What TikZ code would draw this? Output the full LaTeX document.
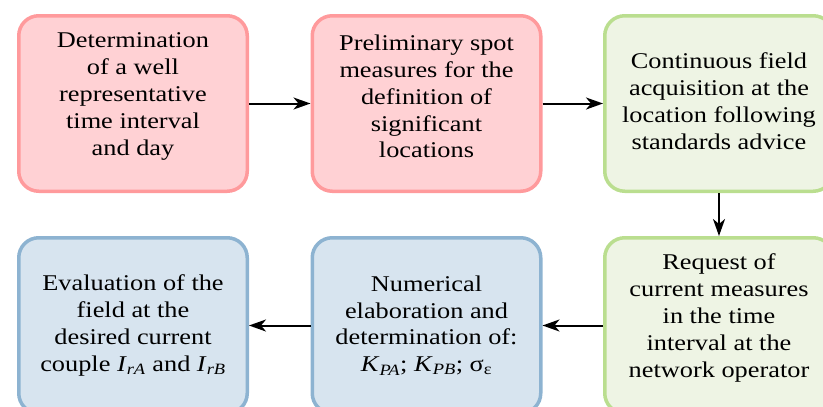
\documentclass[tikz,border=0pt]{standalone}
\usepackage{fontspec}
\setmainfont{Liberation Serif}
\newfontfamily\boxfont{Liberation Serif}[FakeStretch=1.17]
\usetikzlibrary{arrows.meta}
\definecolor{pinkfill}{HTML}{FFD1D4}
\definecolor{pinkdraw}{HTML}{FF9A9C}
\definecolor{greenfill}{HTML}{EEF4E4}
\definecolor{greendraw}{HTML}{BADE8F}
\definecolor{bluefill}{HTML}{D7E4EF}
\definecolor{bluedraw}{HTML}{8DB3D1}
\tikzset{
  box/.style={rounded corners=20pt, line width=3.5pt, minimum width=228.5pt,
    minimum height=175.5pt, align=center, inner sep=0pt,
    font=\boxfont\fontsize{22.5}{26.8}\selectfont},
  pinkbox/.style={box, fill=pinkfill, draw=pinkdraw},
  greenbox/.style={box, fill=greenfill, draw=greendraw},
  bluebox/.style={box, fill=bluefill, draw=bluedraw},
  arr/.style={line width=2pt, -{Stealth[length=17pt,width=12pt,inset=5pt]}}
}
\begin{document}
\begin{tikzpicture}[x=1pt,y=-1pt]
\useasboundingbox (0,0) rectangle (823,407);
\clip (0,0) rectangle (823,407);
\node[pinkbox] (b1) at (133,103.5) {Determination\\of a well\\representative\\time interval\\and day\\[-8pt]};
\node[pinkbox] (b2) at (426.5,103.5) {Preliminary spot\\measures for the\\definition of\\significant\\locations\\[-12.8pt]};
\node[greenbox] (b3) at (719,103.5) {Continuous field\\acquisition at the\\location following\\standards advice\\[-21.8pt]};
\node[greenbox] (b6) at (719,325.5) {Request of\\current measures\\in the time\\interval at the\\network operator\\[-7pt]};
\node[bluebox] (b5) at (426.5,325.5) {Numerical\\elaboration and\\determination of:\\\textit{K}\textsubscript{\textit{PA}}; \textit{K}\textsubscript{\textit{PB}}; σ\textsubscript{ε}};
\node[bluebox] (b4) at (133,325.5) {Evaluation of the\\field at the\\desired current\\couple \textit{I}\textsubscript{\textit{rA}} and \textit{I}\textsubscript{\textit{rB}}};
\draw[arr] (b1) -- (b2);
\draw[arr] (b2) -- (b3);
\draw[arr] (b3) -- (b6);
\draw[arr] (b6) -- (b5);
\draw[arr] (b5) -- (b4);
\end{tikzpicture}
\end{document}
